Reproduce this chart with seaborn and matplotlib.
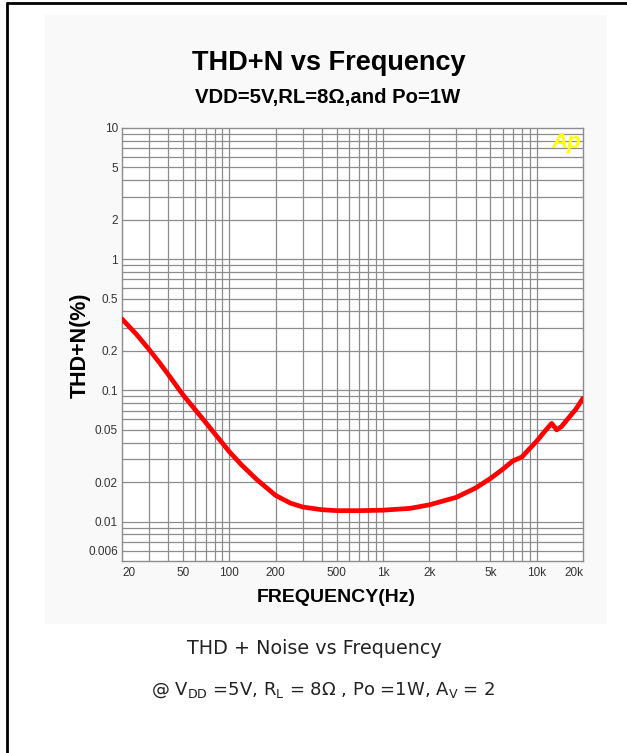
import matplotlib
matplotlib.use("Agg")
import matplotlib.pyplot as plt
from matplotlib.lines import Line2D
from matplotlib.patches import Rectangle
from matplotlib.ticker import FixedLocator, LogLocator, NullFormatter, FixedFormatter
import seaborn as sns
import pandas as pd

# ---- data ----
freq_hz = [20, 25, 30, 35, 40, 50, 60, 70, 80, 100, 120, 150, 200, 250, 300,
           400, 500, 700, 1000, 1500, 2000, 3000, 4000, 5000, 6000, 7000,
           8000, 9000, 10000, 11000, 12500, 13500, 14500, 16000, 18000, 20000]
thd_pct = [0.35, 0.265, 0.205, 0.163, 0.132, 0.092, 0.071, 0.057, 0.047, 0.034,
           0.027, 0.021, 0.0158, 0.0138, 0.0129, 0.0123, 0.0121, 0.0121,
           0.0122, 0.0126, 0.0134, 0.0153, 0.0180, 0.0213, 0.0250, 0.0290,
           0.0310, 0.0360, 0.0410, 0.0470, 0.0560, 0.0500, 0.0530, 0.0610,
           0.0720, 0.0870]
x_ticks = [20, 50, 100, 200, 500, 1000, 2000, 5000, 10000, 20000]
x_tick_labels = ["20", "50", "100", "200", "500", "1k", "2k", "5k", "10k", "20k"]
y_ticks = [0.006, 0.01, 0.02, 0.05, 0.1, 0.2, 0.5, 1, 2, 5, 10]
y_tick_labels = ["0.006", "0.01", "0.02", "0.05", "0.1", "0.2", "0.5", "1", "2", "5", "10"]

df = pd.DataFrame({"freq": freq_hz, "thd": thd_pct})

sns.set_theme(style="white")
plt.rcParams["font.family"] = ["Liberation Sans", "DejaVu Sans"]

fig = plt.figure(figsize=(6.27, 7.53), dpi=100)
fig.patch.set_facecolor("white")

# faint panel behind chart
fig.add_artist(Rectangle((45 / 627, 1 - 624 / 753), (607 - 45) / 627, (624 - 15) / 753,
                         transform=fig.transFigure, facecolor="#f9f9f9",
                         edgecolor="none", zorder=-10))
# page frame lines
fig.add_artist(Line2D([7 / 627, 1.0], [1 - 3 / 753, 1 - 3 / 753], transform=fig.transFigure,
                      color="black", lw=2))
fig.add_artist(Line2D([7 / 627, 7 / 627], [0, 1 - 3 / 753], transform=fig.transFigure,
                      color="black", lw=2))

ax = fig.add_axes([122 / 627, 1 - 561 / 753, (583 - 122) / 627, (561 - 128) / 753])
ax.set_facecolor("white")

sns.lineplot(data=df, x="freq", y="thd", ax=ax, color="#ff0000", lw=3.4, zorder=5)

ax.set_xscale("log")
ax.set_yscale("log")
ax.set_xlim(20, 20000)
ax.set_ylim(0.005, 10)

ax.xaxis.set_major_locator(FixedLocator(x_ticks))
ax.xaxis.set_major_formatter(FixedFormatter(x_tick_labels))
ax.xaxis.set_minor_locator(LogLocator(base=10, subs=range(1, 10), numticks=100))
ax.xaxis.set_minor_formatter(NullFormatter())
ax.yaxis.set_major_locator(FixedLocator(y_ticks))
ax.yaxis.set_major_formatter(FixedFormatter(y_tick_labels))
ax.yaxis.set_minor_locator(LogLocator(base=10, subs=range(1, 10), numticks=100))
ax.yaxis.set_minor_formatter(NullFormatter())

ax.grid(False)
gcol = "#8c8c8c"
for v in LogLocator(base=10, subs=range(1, 10), numticks=100).tick_values(20, 20000):
    if 20 < v < 20000:
        ax.axvline(v, color=gcol, lw=0.9, zorder=1)
for v in LogLocator(base=10, subs=range(1, 10), numticks=100).tick_values(0.005, 10):
    if 0.005 < v < 10:
        ax.axhline(v, color=gcol, lw=0.9, zorder=1)

ax.tick_params(axis="both", which="both", length=0, labelsize=8.5, labelcolor="#333333")
ax.tick_params(axis="x", pad=4)
ax.tick_params(axis="y", pad=3)
xt = ax.get_xticklabels()
xt[0].set_ha("left")
xt[-1].set_ha("right")
for sp in ax.spines.values():
    sp.set_color("#8c8c8c")
    sp.set_linewidth(1.0)

ax.set_xlabel("")
ax.set_ylabel("")
fig.text(336 / 627, 1 - 597 / 753, "FREQUENCY(Hz)", ha="center", va="center",
         fontsize=14, fontweight="bold", color="black")
fig.text(80 / 627, 1 - 345 / 753, "THD+N(%)", ha="center", va="center", rotation=90,
         fontsize=15.5, fontweight="bold", color="black")

ax.text(0.997, 0.99, "Ap", transform=ax.transAxes, ha="right", va="top",
        fontsize=16, fontweight="bold", fontstyle="italic", color="#ffff00", zorder=6)

fig.text(329 / 627, 1 - 63 / 753, "THD+N vs Frequency", ha="center", va="center",
         fontsize=19.5, fontweight="bold", color="black")
fig.text(328 / 627, 1 - 98 / 753, "VDD=5V,RL=8Ω,and Po=1W", ha="center", va="center",
         fontsize=14.6, fontweight="bold", color="black")

fig.text(314 / 627, 1 - 648 / 753, "THD + Noise vs Frequency", ha="center", va="center",
         fontsize=13.8, color="#222222", family=["DejaVu Sans"])
fig.text(323 / 627, 1 - 690 / 753,
         r"@ V$_{\mathregular{DD}}$ =5V, R$_{\mathregular{L}}$ = 8Ω , Po =1W, A$_{\mathregular{V}}$ = 2",
         ha="center", va="center", fontsize=13, color="#222222", family=["DejaVu Sans"])

fig.savefig("out.png", dpi=100)
